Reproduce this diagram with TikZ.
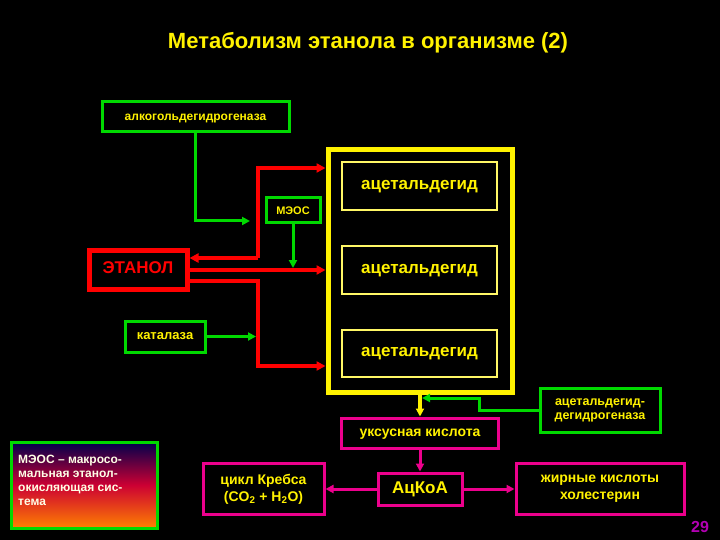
\documentclass[tikz,border=0pt]{standalone}
\usepackage{fontspec}
\setmainfont{Liberation Sans}
\usetikzlibrary{arrows.meta}
\begin{document}
\begin{tikzpicture}[x=1pt,y=-1pt,font=\bfseries,
  lc/.style={text height=1.25ex,text depth=0.1ex},
  gbox/.style={draw=green!85!black,line width=3pt,text=yellow,inner sep=0pt},
  mbox/.style={draw=magenta,line width=3pt,text=yellow,inner sep=0pt,align=center},
  abox/.style={lc,draw=yellow!60!white,line width=1.6pt,text=yellow,inner sep=0pt,font=\bfseries\fontsize{17}{19}\selectfont},
  rline/.style={draw=red,line width=3.4pt,-{Triangle[length=9pt,width=9pt]}},
  gline/.style={draw=green!85!black,line width=3pt,-{Triangle[length=8pt,width=8pt]}},
  mline/.style={draw=magenta,line width=3pt,-{Triangle[length=8pt,width=8pt]}}]
\fill[black] (0,0) rectangle (720,540);
\useasboundingbox (0,0) rectangle (720,540);
\node[text=yellow,font=\bfseries\fontsize{22}{25}\selectfont] (title) at (368,43) {Метаболизм этанола в организме (2)};
% boxes
\node[gbox,lc,minimum width=187,minimum height=30,font=\bfseries\fontsize{12}{14}\selectfont] (adh) at (195.5,117) {алкогольдегидрогеназа};
\node[draw=yellow,line width=5pt,minimum width=184,minimum height=242,inner sep=0pt] (big) at (420,271) {};
\node[abox,minimum width=155,minimum height=48] (a1) at (419.5,186) {ацетальдегид};
\node[abox,minimum width=155,minimum height=48] (a2) at (419.5,270) {ацетальдегид};
\node[abox,minimum width=155,minimum height=47] (a3) at (419.5,353.5) {ацетальдегид};
\node[gbox,text height=1.6ex,text depth=0pt,minimum width=54,minimum height=25,font=\bfseries\fontsize{11}{13}\selectfont] (meos) at (293,210.5) {МЭОС};
\node[draw=red,line width=5pt,text=red,text height=1.6ex,text depth=0pt,minimum width=98,minimum height=39,inner sep=0pt,font=\bfseries\fontsize{17}{19}\selectfont] (eth) at (138,269.5) {ЭТАНОЛ};
\node[gbox,lc,minimum width=80,minimum height=31,font=\bfseries\fontsize{13}{15}\selectfont] (cat) at (165,336.5) {каталаза};
\node[gbox,minimum width=120,minimum height=44,align=center,font=\bfseries\fontsize{12.5}{14}\selectfont] (aldh) at (600,410.5) {ацетальдегид-\\дегидрогеназа};
\node[mbox,lc,minimum width=157,minimum height=30,font=\bfseries\fontsize{14}{16}\selectfont] (ac) at (420,433) {уксусная кислота};
\node[mbox,text height=1.6ex,text depth=0pt,minimum width=84,minimum height=32,font=\bfseries\fontsize{17}{19}\selectfont] (acoa) at (420,489) {АцКоА};
\node[mbox,minimum width=121,minimum height=51,font=\bfseries\fontsize{14}{17}\selectfont] (krebs) at (263.5,489) {цикл Кребса\\(CO\textsubscript{2} + H\textsubscript{2}O)};
\node[mbox,minimum width=168,minimum height=51,font=\bfseries\fontsize{14}{17}\selectfont] (fat) at (600,489) {жирные кислоты\\холестерин};
% legend
\shade[top color=blue!30!black,bottom color=orange,middle color=purple!80!red] (11,442) rectangle (157,528);
\node[draw=green!85!black,line width=3pt,minimum width=146,minimum height=86,inner sep=0pt] (leg) at (84,485) {};
\node[text=white!90!yellow,align=left,anchor=north west,font=\bfseries\fontsize{12}{14}\selectfont,inner sep=0pt] (legt) at (18,455) {МЭОС – макросо-\\мальная этанол-\\окисляющая сис-\\тема};
\node[text=violet!60!magenta,font=\bfseries\fontsize{16}{18}\selectfont] (num) at (700,527) {29};
% red connectors
\coordinate (r1) at (258,258);
\draw[rline] (r1) -- (eth.east |- r1);
\draw[rline] (r1) |- (big.west |- 0,168);
\draw[rline] (eth.east |- 0,270) -- (big.west |- 0,270);
\draw[rline] (eth.east |- 0,281) -| (258,366) -- (big.west |- 0,366);
% green connectors
\draw[gline] (adh.south -| 195,0) |- (250,221);
\draw[gline] (meos.south) -- (293,268);
\draw[gline] (cat.east) -- (256,336.5);
\draw[gline] (aldh.west |- 0,410) -- (479,410) |- (422,398);
% bottom
\draw[draw=yellow,line width=3.4pt,-{Triangle[length=8pt,width=8pt]}] (big.south -| 420,0) -- (ac.north);
\draw[mline] (ac.south) -- (acoa.north);
\draw[mline] (acoa.west) -- (krebs.east);
\draw[mline] (acoa.east) -- (fat.west);
\end{tikzpicture}
\end{document}
